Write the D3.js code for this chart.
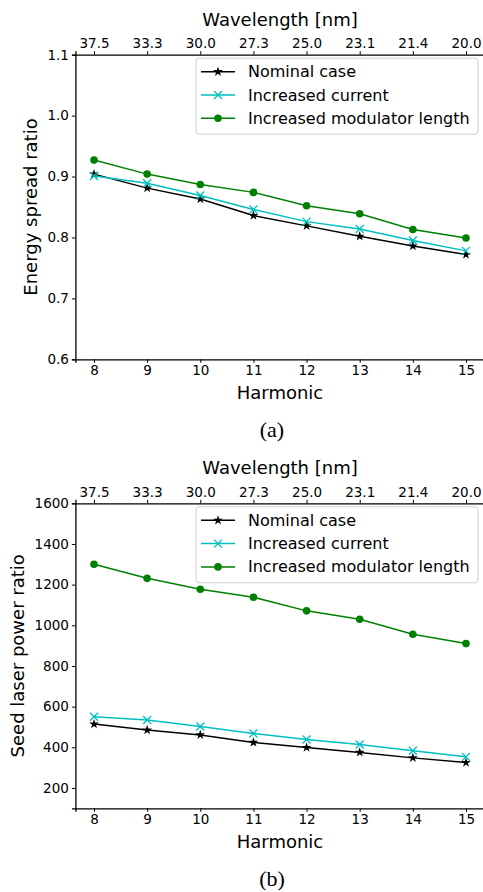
<!DOCTYPE html>
<html><head><meta charset="utf-8">
<script src="https://cdn.jsdelivr.net/npm/d3@7"></script>
<style>body{margin:0;background:#fff}svg{display:block}</style>
</head><body>
<svg id="chart" width="483" height="892"></svg>
<script>
const harmonics = [8, 9, 10, 11, 12, 13, 14, 15];
const wavelengthLabels = ["37.5", "33.3", "30.0", "27.3", "25.0", "23.1", "21.4", "20.0"];
const seriesNames = ["Nominal case", "Increased current", "Increased modulator length"];
const seriesColors = ["#000000", "#00bfbf", "#008000"];
const seriesMarkers = ["star", "x", "circle"];

const energyNominal = [0.904, 0.881, 0.863, 0.836, 0.819, 0.802, 0.786, 0.772];
const energyCurrent = [0.901, 0.889, 0.869, 0.846, 0.826, 0.814, 0.795, 0.778];
const energyModulator = [0.927, 0.904, 0.887, 0.874, 0.852, 0.839, 0.813, 0.799];
const energyTicks = [0.6, 0.7, 0.8, 0.9, 1.0, 1.1];

const powerNominal = [514, 485, 461, 424, 399, 375, 348, 325];
const powerCurrent = [550, 534, 502, 468, 438, 414, 383, 353];
const powerModulator = [1300, 1231, 1177, 1138, 1071, 1030, 956, 910];
const powerTicks = [200, 400, 600, 800, 1000, 1200, 1400, 1600];

const svg = d3.select("#chart");
const FONT = "DejaVu Sans, sans-serif";

function panel(opts) {
  const g = svg.append("g");
  const x = d3.scaleLinear().domain([7.65, 15.35]).range([75.4, 484.6]);
  const y = d3.scaleLinear().domain(opts.domain).range([opts.bottom, opts.top]);

  // axes
  const xb = g.append("g").attr("transform", `translate(0,${opts.bottom})`)
    .call(d3.axisBottom(x).tickValues(harmonics).tickFormat(d3.format("d")).tickSizeOuter(0).tickSize(3.5).tickPadding(3));
  const xt = g.append("g").attr("transform", `translate(0,${opts.top})`)
    .call(d3.axisTop(x).tickValues(harmonics).tickFormat((d, i) => wavelengthLabels[i]).tickSizeOuter(0).tickSize(3.5).tickPadding(3));
  const yl = g.append("g").attr("transform", `translate(75.4,0)`)
    .call(d3.axisLeft(y).tickValues(opts.ticks).tickFormat(opts.fmt).tickSizeOuter(0).tickSize(3.5).tickPadding(3));
  g.append("line").attr("x1", 484.6).attr("x2", 484.6).attr("y1", opts.top).attr("y2", opts.bottom)
    .attr("stroke", "#000").attr("stroke-width", 1.3);
  [xb, xt, yl].forEach(a => {
    a.select(".domain").attr("stroke", "#000").attr("stroke-width", 1.3);
    a.selectAll(".tick line").attr("stroke", "#000").attr("stroke-width", 1);
    a.selectAll("text").attr("font-family", FONT).attr("font-size", 13.5).attr("fill", "#000");
  });

  // labels
  g.append("text").attr("x", 280).attr("y", opts.top - 29).attr("text-anchor", "middle")
    .attr("font-family", FONT).attr("font-size", 18).text("Wavelength [nm]");
  g.append("text").attr("x", 280).attr("y", opts.bottom + 40).attr("text-anchor", "middle")
    .attr("font-family", FONT).attr("font-size", 18).text("Harmonic");
  g.append("text").attr("transform", `translate(${opts.ylabelX},${(opts.top + opts.bottom) / 2}) rotate(-90)`)
    .attr("text-anchor", "middle").attr("font-family", FONT).attr("font-size", 18).text(opts.ylabel);
  g.append("text").attr("x", 272).attr("y", opts.bottom + 78).attr("text-anchor", "middle")
    .attr("font-family", "Liberation Serif, serif").attr("font-size", 22).text(opts.caption);

  const line = d3.line().x((d, i) => x(harmonics[i])).y(d => y(d));
  opts.series.forEach((vals, s) => {
    g.append("path").datum(vals).attr("d", line).attr("fill", "none")
      .attr("stroke", seriesColors[s]).attr("stroke-width", 1.5);
    vals.forEach((v, i) => drawMarker(g, x(harmonics[i]), y(v), s));
  });

  // legend
  const lx = 196, ly = opts.top + 3.5, lw = 282, lh = 76;
  g.append("rect").attr("x", lx).attr("y", ly).attr("width", lw).attr("height", lh)
    .attr("rx", 3).attr("fill", "#fff").attr("fill-opacity", 0.8).attr("stroke", "#d0d0d0").attr("stroke-width", 1);
  seriesNames.forEach((n, s) => {
    const yy = ly + 13.5 + s * 23.3;
    g.append("line").attr("x1", lx + 5).attr("x2", lx + 39).attr("y1", yy).attr("y2", yy)
      .attr("stroke", seriesColors[s]).attr("stroke-width", 1.5);
    drawMarker(g, lx + 22, yy, s);
    g.append("text").attr("x", lx + 52).attr("y", yy + 5.5).attr("font-family", FONT)
      .attr("font-size", 16).text(n);
  });
}

function drawMarker(g, cx, cy, s) {
  const c = seriesColors[s];
  if (seriesMarkers[s] === "star") {
    g.append("path").attr("d", d3.symbol(d3.symbolStar, 30)()).attr("transform", `translate(${cx},${cy})`).attr("fill", c);
  } else if (seriesMarkers[s] === "x") {
    const r = 4;
    g.append("path").attr("d", `M${cx - r},${cy - r}L${cx + r},${cy + r}M${cx - r},${cy + r}L${cx + r},${cy - r}`)
      .attr("stroke", c).attr("stroke-width", 1.3).attr("fill", "none");
  } else {
    g.append("circle").attr("cx", cx).attr("cy", cy).attr("r", 3.8).attr("fill", c);
  }
}

panel({
  top: 54.7, bottom: 359.3, domain: [0.6, 1.1], ticks: energyTicks, fmt: d3.format(".1f"),
  ylabel: "Energy spread ratio", ylabelX: 37, caption: "(a)",
  series: [energyNominal, energyCurrent, energyModulator]
});
panel({
  top: 503.3, bottom: 808.3, domain: [100, 1600], ticks: powerTicks, fmt: d3.format("d"),
  ylabel: "Seed laser power ratio", ylabelX: 24, caption: "(b)",
  series: [powerNominal, powerCurrent, powerModulator]
});
</script>
</body></html>
